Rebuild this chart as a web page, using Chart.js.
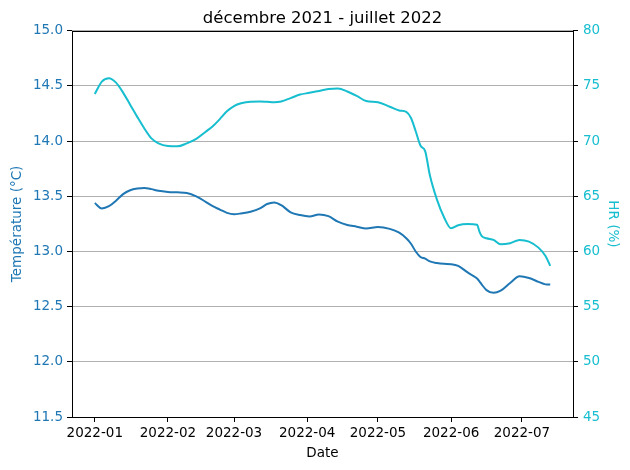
<!DOCTYPE html>
<html>
<head>
<meta charset="utf-8">
<script src="https://cdn.jsdelivr.net/npm/chart.js@4/dist/chart.umd.min.js"></script>
<style>
  html, body { margin: 0; padding: 0; background: #fff; }
  #wrap { width: 630px; height: 470px; }
</style>
</head>
<body>
<div id="wrap"><canvas id="chart" width="630" height="470"></canvas></div>
<script>
// relevés (date, température °C, humidité relative %)
var dates = [
  '2022-01-01','2022-01-04','2022-01-07','2022-01-10','2022-01-13','2022-01-16','2022-01-19','2022-01-22',
  '2022-01-25','2022-01-28','2022-02-01','2022-02-05','2022-02-09','2022-02-13','2022-02-17','2022-02-20',
  '2022-02-23','2022-02-26','2022-03-01','2022-03-04','2022-03-08','2022-03-12','2022-03-15','2022-03-18',
  '2022-03-21','2022-03-25','2022-03-29','2022-04-02','2022-04-06','2022-04-10','2022-04-14','2022-04-18',
  '2022-04-22','2022-04-26','2022-05-01','2022-05-06','2022-05-10','2022-05-13','2022-05-15','2022-05-17',
  '2022-05-19','2022-05-21','2022-05-23','2022-05-26','2022-05-29','2022-06-01','2022-06-04','2022-06-08',
  '2022-06-12','2022-06-13','2022-06-14','2022-06-16','2022-06-19','2022-06-22','2022-06-26','2022-06-30',
  '2022-07-04','2022-07-08','2022-07-11','2022-07-13'
];
var temperature = [
  13.44, 13.39, 13.41, 13.46, 13.52, 13.555, 13.57, 13.575,
  13.565, 13.55, 13.54, 13.536, 13.53, 13.50, 13.45, 13.41,
  13.38, 13.35, 13.338, 13.345, 13.36, 13.39, 13.43, 13.445,
  13.42, 13.355, 13.33, 13.318, 13.335, 13.32, 13.27, 13.24,
  13.225, 13.208, 13.222, 13.205, 13.17, 13.12, 13.07, 13.00,
  12.95, 12.935, 12.91, 12.895, 12.888, 12.885, 12.87, 12.81,
  12.755, 12.73, 12.70, 12.65, 12.625, 12.645, 12.715, 12.775,
  12.76, 12.725, 12.702, 12.70
];
var humidite = [
  74.27, 75.4, 75.7, 75.3, 74.4, 73.3, 72.2, 71.15,
  70.25, 69.8, 69.56, 69.53, 69.8, 70.2, 70.85, 71.35,
  72.0, 72.7, 73.18, 73.43, 73.58, 73.6, 73.57, 73.53,
  73.6, 73.9, 74.22, 74.38, 74.55, 74.72, 74.76, 74.5,
  74.1, 73.63, 73.52, 73.12, 72.78, 72.65, 72.1, 70.9,
  69.6, 69.1, 66.9, 64.7, 63.1, 62.1, 62.38, 62.48,
  62.42, 61.8, 61.4, 61.2, 61.05, 60.65, 60.75, 61.05,
  60.9, 60.35, 59.6, 58.7
];
var moisTicks = ['2022-01-01','2022-02-01','2022-03-01','2022-04-01','2022-05-01','2022-06-01','2022-07-01'];

var C_TEMP = '#1f77b4';
var C_HR = '#17becf';
var FONT = 'DejaVu Sans';

function pts(values){
    var out = [];
    for (var i = 0; i < dates.length; i++){
        out.push({ x: Date.parse(dates[i]), y: values[i] });
    }
    return out;
}
function fmtMois(v){
    var d = new Date(v);
    var m = d.getUTCMonth() + 1;
    return d.getUTCFullYear() + '-' + (m < 10 ? '0' + m : m);
}

var t0 = Date.parse(dates[0]);
var t1 = Date.parse(dates[dates.length - 1]);
var marge = (t1 - t0) * 0.05;

var cadre = {
    id: 'cadre',
    afterDraw: function(chart){
        var a = chart.chartArea, ctx = chart.ctx;
        ctx.save();
        ctx.strokeStyle = '#000';
        ctx.lineWidth = 1;
        ctx.strokeRect(Math.round(a.left) + 0.5, Math.round(a.top) + 0.5,
            Math.round(a.right - a.left), Math.round(a.bottom - a.top));
        ctx.restore();
    }
};

window.onload = function(){
    new Chart(document.getElementById('chart').getContext('2d'), {
        type: 'line',
        data: {
            datasets: [{
                label: 'Température',
                data: pts(temperature),
                yAxisID: 'yT',
                borderColor: C_TEMP,
                borderWidth: 2,
                pointRadius: 0,
                fill: false,
                cubicInterpolationMode: 'monotone'
            },{
                label: 'HR',
                data: pts(humidite),
                yAxisID: 'yH',
                borderColor: C_HR,
                borderWidth: 2,
                pointRadius: 0,
                fill: false,
                cubicInterpolationMode: 'monotone'
            }]
        },
        options: {
            responsive: false,
            animation: false,
            layout: { padding: 0 },
            plugins: {
                legend: { display: false },
                tooltip: { enabled: false },
                title: {
                    display: true,
                    fullSize: false,
                    text: 'décembre 2021 - juillet 2022',
                    color: '#000',
                    font: { family: FONT, size: 16.5, weight: 'normal' },
                    padding: { top: 9, bottom: 2 }
                }
            },
            scales: {
                x: {
                    type: 'linear',
                    min: t0 - marge,
                    max: t1 + marge,
                    afterBuildTicks: function(scale){
                        scale.ticks = moisTicks.map(function(d){ return { value: Date.parse(d) }; });
                    },
                    afterFit: function(scale){ scale.height = 53; },
                    ticks: {
                        color: '#000',
                        font: { family: FONT, size: 13.5 },
                        padding: 3,
                        maxRotation: 0,
                        autoSkip: false,
                        callback: function(v){ return fmtMois(v); }
                    },
                    grid: { drawOnChartArea: false, tickLength: 5, tickColor: '#000' },
                    border: { display: false },
                    title: {
                        display: true, text: 'Date', color: '#000',
                        font: { family: FONT, size: 13.5 },
                        padding: { top: 0, bottom: 8 }
                    }
                },
                yT: {
                    position: 'left',
                    min: 11.5, max: 15.0,
                    afterFit: function(scale){ scale.width = 72; },
                    ticks: {
                        stepSize: 0.5,
                        color: C_TEMP,
                        font: { family: FONT, size: 13.5 },
                        padding: 4,
                        callback: function(v){ return v.toFixed(1); }
                    },
                    grid: { color: '#b0b0b0', lineWidth: 1, tickLength: 5, tickColor: '#000' },
                    border: { display: false },
                    title: {
                        display: true, text: 'Température (°C)', color: C_TEMP,
                        font: { family: FONT, size: 13.5 },
                        padding: { top: 9, bottom: 0 }
                    }
                },
                yH: {
                    position: 'right',
                    min: 45, max: 80,
                    afterFit: function(scale){ scale.width = 57; },
                    ticks: {
                        stepSize: 5,
                        color: C_HR,
                        font: { family: FONT, size: 13.5 },
                        padding: 5
                    },
                    grid: { drawOnChartArea: false, tickLength: 5, tickColor: '#000' },
                    border: { display: false },
                    title: {
                        display: true, text: 'HR (%)', color: C_HR,
                        font: { family: FONT, size: 13.5 },
                        padding: { top: 9, bottom: 0 }
                    }
                }
            }
        },
        plugins: [cadre]
    });
};
</script>
</body>
</html>
